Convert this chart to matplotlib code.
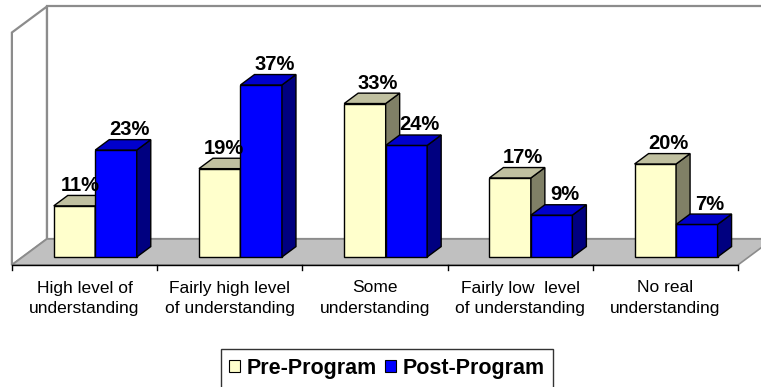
import matplotlib
matplotlib.use("Agg")
import matplotlib.pyplot as plt
from matplotlib.patches import Polygon, Patch

categories = [
    "High level of\nunderstanding",
    "Fairly high level\nof understanding",
    "Some\nunderstanding",
    "Fairly low  level\nof understanding",
    "No real\nunderstanding",
]
pre_program = [11, 19, 33, 17, 20]
post_program = [23, 37, 24, 9, 7]
series_names = ["Pre-Program", "Post-Program"]

# face colours: front, top, side
PRE_COLORS = ("#FFFFCC", "#C0C0A0", "#808066")
POST_COLORS = ("#0000FF", "#0000CC", "#000080")

W_PX, H_PX, DPI = 761, 387, 100
fig = plt.figure(figsize=(W_PX / DPI, H_PX / DPI), dpi=DPI)
ax = fig.add_axes([0, 0, 1, 1])
ax.set_axis_off()

# data space: x in category units, z in percent (front plane of the floor)
PX_PER_CAT = 145.2
PX_PER_PCT = 4.65
X0_PX = 84.5   # pixel x of first category centre
Z0_PX = 265.0  # pixel y of floor front edge
ax.set_xlim(-X0_PX / PX_PER_CAT, (W_PX - X0_PX) / PX_PER_CAT)
ax.set_ylim((Z0_PX - H_PX) / PX_PER_PCT, Z0_PX / PX_PER_PCT)

# oblique depth vector (full floor depth)
DX = 35 / PX_PER_CAT
DZ = 26 / PX_PER_PCT
WALL_TOP = 50
N = len(categories)


def proj(x, z, d):
    return (x + d * DX, z + d * DZ)


# walls
xl, xr = -0.5, N - 0.5 + 0.4
left_wall = [proj(xl, 0, 0), proj(xl, 0, 1), proj(xl, WALL_TOP, 1), proj(xl, WALL_TOP, 0)]
back_wall = [proj(xl, 0, 1), proj(xr, 0, 1), proj(xr, WALL_TOP, 1), proj(xl, WALL_TOP, 1)]
wall_kw = dict(facecolor="white", edgecolor="#8C8C8C", linewidth=1.6, joinstyle="miter")
ax.add_patch(Polygon(back_wall, closed=True, **wall_kw))
ax.add_patch(Polygon(left_wall, closed=True, **wall_kw))

# floor
floor = [proj(xl, 0, 0), proj(N - 0.5, 0, 0), proj(N - 0.5, 0, 1), proj(xr, 0, 1), proj(xl, 0, 1)]
ax.add_patch(Polygon(floor, closed=True, facecolor="#C0C0C0", edgecolor="#8C8C8C", linewidth=1.2))

# front axis line with ticks at category boundaries
ax.plot([xl, N - 0.5], [0, 0], color="black", linewidth=1.0, solid_capstyle="butt")
tick_len = 5 / PX_PER_PCT
for b in range(N + 1):
    ax.plot([b - 0.5, b - 0.5], [0, -tick_len], color="black", linewidth=1.0)

# bars
BAR_W = 41.5 / PX_PER_CAT
F0 = 8 / 26          # depth of bar front faces
BAR_D = 0.40         # bar depth
base_x, base_z = F0 * DX, F0 * DZ

label_gap = 4.5 / PX_PER_PCT
label_shift = 13 / PX_PER_CAT
label_font = dict(fontsize=14.5, fontweight="bold", family="Liberation Sans", zorder=5)
for i in range(N):
    series = [(pre_program, PRE_COLORS), (post_program, POST_COLORS)]
    for k, (vals, cols) in enumerate(series):
        v = vals[i]
        x_left = i - BAR_W + k * BAR_W
        ax.bar(x_left + base_x, v, width=BAR_W, bottom=base_z, align="edge",
               facecolor=cols[0], edgecolor="black", linewidth=1.0, zorder=3)
        top = [proj(x_left, v, F0), proj(x_left + BAR_W, v, F0),
               proj(x_left + BAR_W, v, F0 + BAR_D), proj(x_left, v, F0 + BAR_D)]
        side = [proj(x_left + BAR_W, 0, F0), proj(x_left + BAR_W, 0, F0 + BAR_D),
                proj(x_left + BAR_W, v, F0 + BAR_D), proj(x_left + BAR_W, v, F0)]
        ax.add_patch(Polygon(side, closed=True, facecolor=cols[2], edgecolor="black",
                             linewidth=1.0, zorder=3, joinstyle="miter"))
        ax.add_patch(Polygon(top, closed=True, facecolor=cols[1], edgecolor="black",
                             linewidth=1.0, zorder=3, joinstyle="miter"))
        _, lz = proj(x_left, v, F0 + BAR_D)
        fx, _ = proj(x_left + BAR_W / 2, v, F0)
        if k == 0 and post_program[i] > v:
            # keep the label clear of the taller neighbouring bar
            rx, _ = proj(x_left + BAR_W, v, F0)
            ax.text(rx + 4 / PX_PER_CAT, lz + label_gap, f"{v}%", ha="right",
                    va="baseline", **label_font)
        else:
            ax.text(fx + label_shift, lz + label_gap, f"{v}%", ha="center",
                    va="baseline", **label_font)

# category labels
for i, name in enumerate(categories):
    ax.text(i, -15.5 / PX_PER_PCT, name, ha="center", va="top", fontsize=12.5,
            family="Liberation Sans", linespacing=1.5)

# legend
handles = [Patch(facecolor=PRE_COLORS[0], edgecolor="black", linewidth=0.8),
           Patch(facecolor=POST_COLORS[0], edgecolor="black", linewidth=0.8)]
leg = fig.legend(handles, series_names, loc="center", bbox_to_anchor=(387 / W_PX, 1 - 368.5 / H_PX),
                 ncol=2, frameon=True, fancybox=False, handlelength=0.5, handleheight=0.5,
                 handletextpad=0.3, columnspacing=0.4, borderpad=0.4, borderaxespad=0,
                 prop={"family": "Liberation Sans", "weight": "bold", "size": 15.5})
leg.get_frame().set_edgecolor("black")
leg.get_frame().set_linewidth(1.0)

fig.savefig("out.png", dpi=DPI)
